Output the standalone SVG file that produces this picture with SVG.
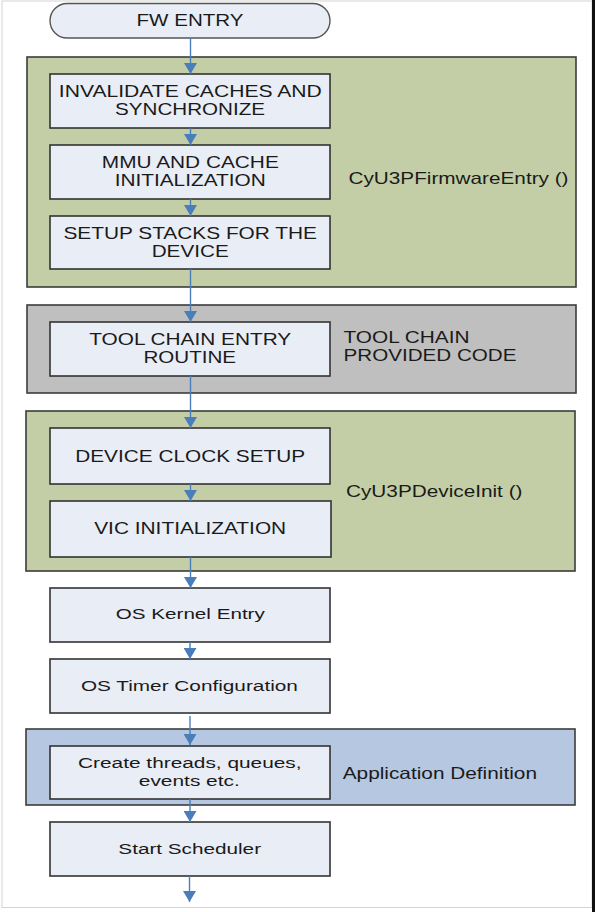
<svg xmlns="http://www.w3.org/2000/svg" width="595" height="912" viewBox="0 0 595 912">
<defs>
<marker id="ah" viewBox="0 0 11 13" refX="11" refY="6.5" markerWidth="11" markerHeight="13" markerUnits="userSpaceOnUse" orient="auto">
<path d="M0,0 L11,6.5 L0,13 z" fill="#4a7ebb"/>
</marker>
<style>
.box{fill:#e9edf6;stroke:#333;stroke-width:1.6}
.pg{fill:#c4cea6;stroke:#3c3c3c;stroke-width:1.6}
.pgray{fill:#bfbfbf;stroke:#3c3c3c;stroke-width:1.6}
.pb{fill:#b5c7e1;stroke:#3c3c3c;stroke-width:1.6}
.t{font-family:"Liberation Sans",Arial,sans-serif;font-size:16.5px;fill:#1a1a1a;text-anchor:middle}
.tl{font-family:"Liberation Sans",Arial,sans-serif;font-size:16.5px;fill:#1a1a1a;text-anchor:start}
.ts{font-family:"Liberation Sans",Arial,sans-serif;font-size:15.5px;fill:#1a1a1a;text-anchor:middle}
.c{stroke:#4a7ebb;stroke-width:1.4;fill:none}
</style>
</defs>
<rect x="0" y="0" width="595" height="912" fill="#ffffff"/>
<rect x="2" y="1" width="590" height="906.5" fill="none" stroke="#d4d4d4" stroke-width="1"/>
<rect x="592" y="0" width="3" height="912" fill="#111"/>

<g id="panel-firmware">
<rect class="pg" x="27" y="57" width="549" height="230"/>
<text class="tl" x="348.5" y="184" textLength="220" lengthAdjust="spacingAndGlyphs">CyU3PFirmwareEntry ()</text>
</g>
<g id="panel-toolchain">
<rect class="pgray" x="27" y="305" width="549" height="88"/>
<text class="tl" x="343.5" y="342.7" textLength="126" lengthAdjust="spacingAndGlyphs">TOOL CHAIN</text>
<text class="tl" x="343.5" y="361" textLength="173" lengthAdjust="spacingAndGlyphs">PROVIDED CODE</text>
</g>
<g id="panel-deviceinit">
<rect class="pg" x="26" y="411" width="549" height="160"/>
<text class="tl" x="346" y="496.7" textLength="176.5" lengthAdjust="spacingAndGlyphs">CyU3PDeviceInit ()</text>
</g>
<g id="panel-appdef">
<rect class="pb" x="26" y="729" width="549" height="76"/>
<text class="tl" x="342.7" y="779" textLength="194.3" lengthAdjust="spacingAndGlyphs">Application Definition</text>
</g>

<g id="fw-entry">
<rect x="50" y="3.5" width="280" height="34.5" rx="17.25" fill="#e9edf6" stroke="#555" stroke-width="1.4"/>
<text class="t" x="190" y="26" textLength="107" lengthAdjust="spacingAndGlyphs">FW ENTRY</text>
</g>
<g id="invalidate">
<rect class="box" x="50" y="74" width="280" height="54"/>
<text class="t" x="190.3" y="96.7" textLength="263" lengthAdjust="spacingAndGlyphs">INVALIDATE CACHES AND</text>
<text class="t" x="190" y="115.3" textLength="150" lengthAdjust="spacingAndGlyphs">SYNCHRONIZE</text>
</g>
<g id="mmu">
<rect class="box" x="50" y="145" width="280" height="54"/>
<text class="t" x="190.3" y="167.7" textLength="177" lengthAdjust="spacingAndGlyphs">MMU AND CACHE</text>
<text class="t" x="190.2" y="186.3" textLength="151" lengthAdjust="spacingAndGlyphs">INITIALIZATION</text>
</g>
<g id="stacks">
<rect class="box" x="50" y="216" width="280" height="53"/>
<text class="t" x="190.2" y="238.7" textLength="253.5" lengthAdjust="spacingAndGlyphs">SETUP STACKS FOR THE</text>
<text class="t" x="190.2" y="257.3" textLength="77" lengthAdjust="spacingAndGlyphs">DEVICE</text>
</g>
<g id="toolchain-entry">
<rect class="box" x="50" y="322" width="280" height="54"/>
<text class="t" x="190.2" y="345" textLength="202" lengthAdjust="spacingAndGlyphs">TOOL CHAIN ENTRY</text>
<text class="t" x="189.8" y="363.3" textLength="92.6" lengthAdjust="spacingAndGlyphs">ROUTINE</text>
</g>
<g id="clock">
<rect class="box" x="50" y="428" width="280" height="56"/>
<text class="t" x="190.2" y="462.3" textLength="230" lengthAdjust="spacingAndGlyphs">DEVICE CLOCK SETUP</text>
</g>
<g id="vic">
<rect class="box" x="50" y="501" width="281" height="56"/>
<text class="t" x="190.2" y="534.3" textLength="192" lengthAdjust="spacingAndGlyphs">VIC INITIALIZATION</text>
</g>
<g id="kernel">
<rect class="box" x="50" y="588" width="280" height="54"/>
<text class="ts" x="190.3" y="619.3" textLength="149" lengthAdjust="spacingAndGlyphs">OS Kernel Entry</text>
</g>
<g id="timer">
<rect class="box" x="50" y="659" width="280" height="54"/>
<text class="ts" x="189.4" y="690.7" textLength="217" lengthAdjust="spacingAndGlyphs">OS Timer Configuration</text>
</g>
<g id="threads">
<rect class="box" x="50" y="746" width="280" height="53"/>
<text class="ts" x="189.8" y="768.3" textLength="223.5" lengthAdjust="spacingAndGlyphs">Create threads, queues,</text>
<text class="ts" x="189.3" y="786" textLength="101" lengthAdjust="spacingAndGlyphs">events etc.</text>
</g>
<g id="scheduler">
<rect class="box" x="50" y="822" width="280" height="54"/>
<text class="ts" x="189.7" y="854.3" textLength="142.7" lengthAdjust="spacingAndGlyphs">Start Scheduler</text>
</g>

<g id="connectors">
<path class="c" d="M190.5,38 V74" marker-end="url(#ah)"/>
<path class="c" d="M190.5,128 V145" marker-end="url(#ah)"/>
<path class="c" d="M190.5,199 V216" marker-end="url(#ah)"/>
<path class="c" d="M190.5,269 V322" marker-end="url(#ah)"/>
<path class="c" d="M190.5,376 V428" marker-end="url(#ah)"/>
<path class="c" d="M190.5,484 V501" marker-end="url(#ah)"/>
<path class="c" d="M190.5,557 V588" marker-end="url(#ah)"/>
<path class="c" d="M190,642 V659" marker-end="url(#ah)"/>
<path class="c" d="M190,716 V745" marker-end="url(#ah)"/>
<path class="c" d="M190,799 V822" marker-end="url(#ah)"/>
<path class="c" d="M189.5,876 V902" marker-end="url(#ah)"/>
</g>
</svg>
